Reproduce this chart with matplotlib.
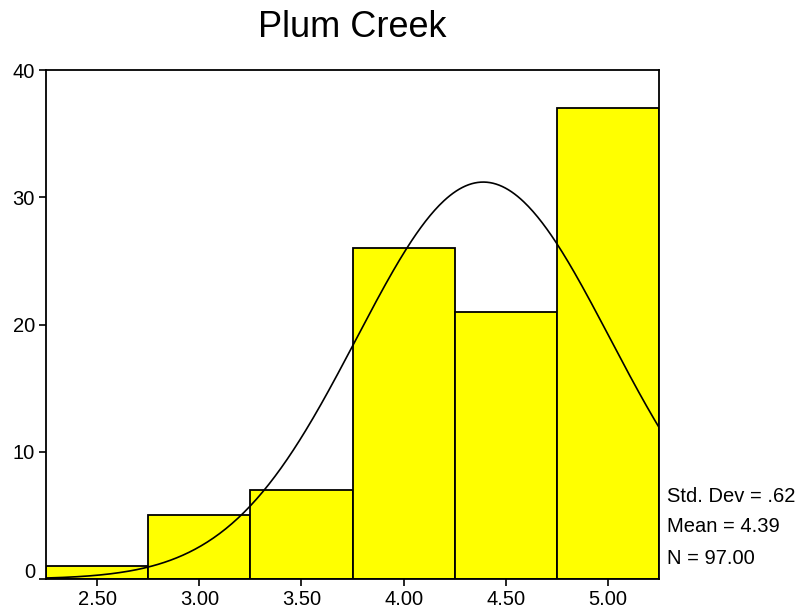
import numpy as np
import matplotlib.pyplot as plt
from matplotlib.transforms import ScaledTranslation

plt.rcParams['font.family'] = ['Liberation Sans', 'DejaVu Sans']

# histogram bins (midpoints) and counts
bin_mids = [2.5, 3.0, 3.5, 4.0, 4.5, 5.0]
counts = [1, 5, 7, 26, 21, 37]
bin_width = 0.5
mean = 4.39
std = 0.62
n = 97
title = "Plum Creek"
stats_lines = ["Std. Dev = .62", "Mean = 4.39", "N = 97.00"]

fig = plt.figure(figsize=(8.02, 6.16), dpi=100)
ax = fig.add_axes([0.0574, 0.060, 0.7643, 0.826])

ax.bar(bin_mids, counts, width=bin_width, color='#ffff00',
       edgecolor='black', linewidth=1.3, zorder=2)

# normal curve scaled to the counts
xs = np.linspace(2.25, 5.25, 400)
ys = n * bin_width / (std * np.sqrt(2 * np.pi)) * np.exp(-0.5 * ((xs - mean) / std) ** 2)
ax.plot(xs, ys, color='black', linewidth=1.2, zorder=3)

ax.set_xlim(2.25, 5.25)
ax.set_ylim(0, 40)
ax.set_xticks(bin_mids)
ax.set_xticklabels([f"{v:.2f}" for v in bin_mids])
ax.set_yticks([0, 10, 20, 30, 40])
ax.tick_params(direction='out', length=5, width=1.2, labelsize=14.5, pad=3)
for sp in ax.spines.values():
    sp.set_linewidth(1.3)

# nudge the zero label up off the corner
lab0 = ax.get_yticklabels()[0]
lab0.set_transform(lab0.get_transform() + ScaledTranslation(0, 0.09, fig.dpi_scale_trans))

ax.set_title(title, fontsize=26, pad=24)

for i, line in enumerate(stats_lines):
    fig.text(667 / 802, 1 - (496 + 31 * i) / 616, line, fontsize=14.5,
             ha='left', va='center')

fig.savefig("out.png", dpi=100)
